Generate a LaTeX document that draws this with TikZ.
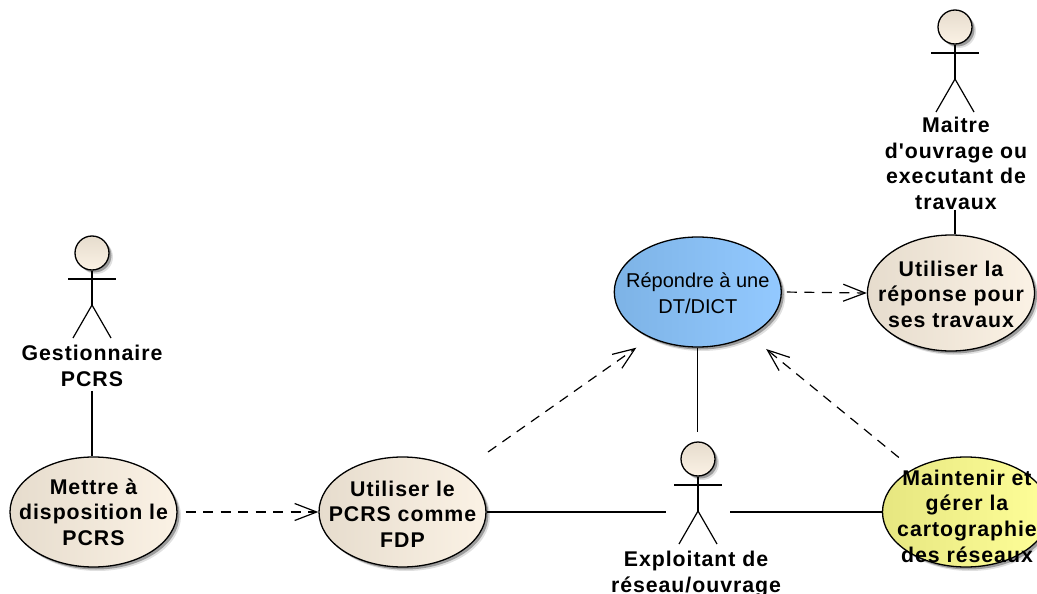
\documentclass[tikz,border=0pt]{standalone}
\usepackage{fontspec}
\setmainfont{Liberation Sans}
\newfontfamily\ucbold[LetterSpace=4.5]{Liberation Sans Bold}
\usetikzlibrary{shapes.geometric,shadows,arrows.meta}
\definecolor{creamL}{HTML}{E6DCCD}
\definecolor{creamR}{HTML}{FBF2E5}
\definecolor{blueL}{HTML}{7DB3E6}
\definecolor{blueR}{HTML}{93C9FF}
\definecolor{yelL}{HTML}{E6E680}
\definecolor{yelR}{HTML}{FFFF99}
\tikzset{
  softshadow/.style={drop shadow={shadow xshift=4pt,shadow yshift=-4pt,fill=black,opacity=.12},
                     drop shadow={shadow xshift=2.5pt,shadow yshift=-2.5pt,fill=black,opacity=.3}},
  usecase/.style={ellipse,draw=black,line width=1.3pt,inner sep=0pt,minimum width=167pt,minimum height=110pt,softshadow,shading=axis,shading angle=0},
  cream/.style={left color=creamL,middle color=creamR,right color=creamR},
  bluecase/.style={left color=blueL,middle color=blueR,right color=blueR},
  yellowcase/.style={left color=yelL,middle color=yelR,right color=yelR},
  boldtext/.style={font=\ucbold\fontsize{21.3}{25.6}\selectfont,align=center,inner sep=0pt},
  plaintext/.style={font=\fontsize{20}{25.6}\selectfont,align=center,inner sep=0pt},
  head/.style={circle,draw=black,line width=1.3pt,inner sep=0pt,minimum size=34pt,cream,shading=axis,shading angle=0,softshadow},
  limb/.style={draw=black,line width=1.2pt},
  assoc/.style={draw=black,line width=1.3pt},
  dep/.style={draw=black,line width=1.2pt,dash pattern=on 10pt off 7.5pt,-{Straight Barb[length=22pt,width=17pt,line width=1.2pt]}},
}
\newcommand{\stickman}[5]{% head name, x, head y
  \node[head] (#1) at (#2,#3) {};
  \draw[limb] (#1.south) -- (#2,#3+52);
  \draw[limb] (#2-24,#3+26) -- (#2+24,#3+26);
  \draw[limb] (#2-19,#3+85) -- (#2,#3+52) -- (#2+19,#3+85);
}
\begin{document}
\begin{tikzpicture}[x=1pt,y=-1pt]
\useasboundingbox (0,0) rectangle (1037,594);
\clip (0,0) rectangle (1037,594);
\fill[white] (0,0) rectangle (1037,594);

\node[usecase,cream,label={[boldtext]center:{Mettre à\\disposition le\\PCRS}}] (mettre) at (93.5,512) {};
\node[usecase,cream,label={[boldtext,yshift=-2pt]center:{Utiliser le\\PCRS comme\\FDP}}] (fdp) at (402.5,512) {};
\node[usecase,bluecase,label={[plaintext,yshift=-1.5pt]center:{Répondre à une\\DT/DICT}}] (repondre) at (697.8,292) {};
\node[usecase,cream,minimum height=116pt,label={[boldtext,yshift=-1pt]center:{Utiliser la\\réponse pour\\ses travaux}}] (travaux) at (951,293) {};
\node[usecase,yellowcase,label={[boldtext,yshift=-4pt,xshift=1pt]center:{Maintenir et\\gérer la\\cartographie\\des réseaux}}] (maintenir) at (966,512) {};

\stickman{hMaitre}{955}{27}{}{}
\stickman{hGest}{92}{253}{}{}
\stickman{hExpl}{698}{459}{}{}

\node[boldtext] (lMaitre) at (956,163.5) {Maitre\\d'ouvrage ou\\executant de\\travaux};
\node[boldtext] (lGest) at (92,366) {Gestionnaire\\PCRS};
\node[boldtext] (lExpl) at (696,574) {Exploitant de\\réseau/ouvrage};

\coordinate (eLeft) at (666,512);
\coordinate (eRight) at (730,512);
\coordinate (eTop) at (697.8,432);

\draw[assoc,shorten <=4pt] (lGest.south) -- (lGest.south |- mettre.north);
\draw[assoc] (lMaitre.south -| hMaitre.south) -- (hMaitre.south |- travaux.north);
\draw[assoc] (fdp.east) -- (eLeft);
\draw[assoc] (eRight) -- (maintenir.west);
\draw[assoc] (repondre.south) -- (eTop);

\draw[dep,shorten <=8pt] (mettre.east) -- (fdp.west);
\draw[dep,shorten <=5pt] (repondre.east) -- (travaux.west);
\draw[dep,shorten <=34pt,shorten >=17pt] (fdp.35) -- (repondre.224);
\draw[dep,shorten <=18pt,shorten >=21pt] (maintenir.141) -- (repondre.-40);
\end{tikzpicture}
\end{document}
